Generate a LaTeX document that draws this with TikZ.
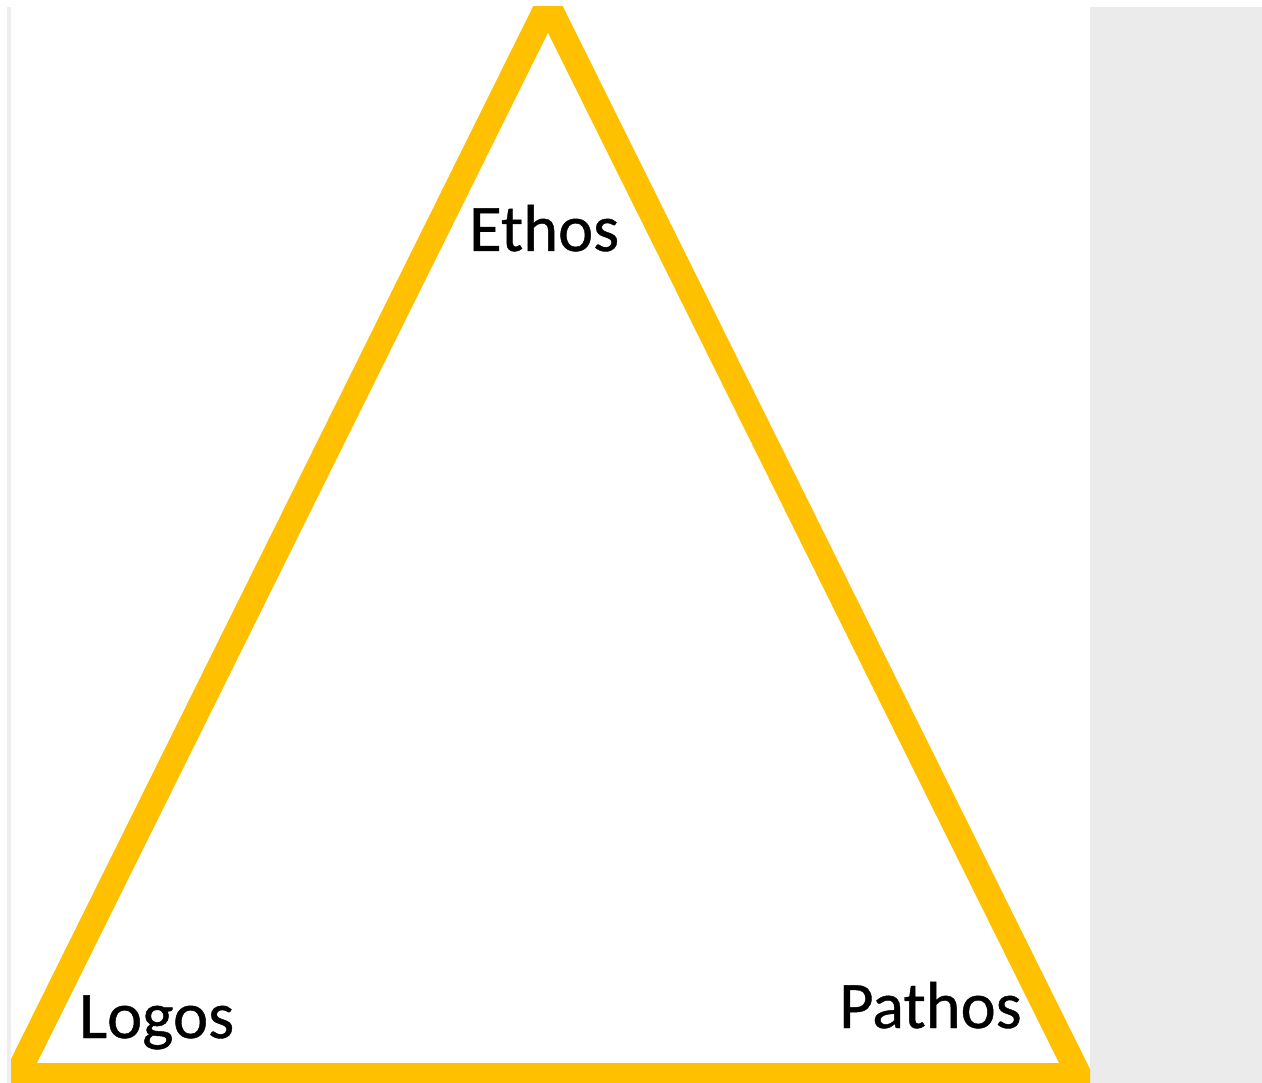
\documentclass[tikz,border=0pt]{standalone}
\usepackage{fontspec}
\setmainfont{Carlito}
\newfontfamily\lblfont{Carlito}[FakeBold=0.6]
\definecolor{gold}{HTML}{FFC000}
\definecolor{panelgray}{HTML}{EBEBEB}
\definecolor{stripgray}{HTML}{EEEEEE}
\begin{document}
\begin{tikzpicture}[x=1pt,y=-1pt,
  label/.style={anchor=base west,inner sep=0pt,font=\lblfont\fontsize{66.5}{72}\selectfont,text=black},
  edge/.style={draw=gold,line width=25pt,line join=miter}]
\fill[white] (0,0) rectangle (1262,1083);
\useasboundingbox (0,0) rectangle (1262,1083);
\fill[stripgray] (7,7) rectangle (11,1083);
\fill[panelgray] (1090,7) rectangle (1262,1083);
\coordinate (top) at (548,4.6);
\coordinate (bl) at (16.8,1075.5);
\coordinate (br) at (1079.2,1075.5);
\begin{scope}
\clip (11,7) rectangle (1090,1083);
\draw[edge] (top) -- (bl) -- (br) -- cycle;
\end{scope}
\node[label] (ethos) at (469,251) {Ethos};
\node[label] (logos) at (79,1038) {Logos};
\node[label] (pathos) at (839,1028) {Pathos};
\end{tikzpicture}
\end{document}
